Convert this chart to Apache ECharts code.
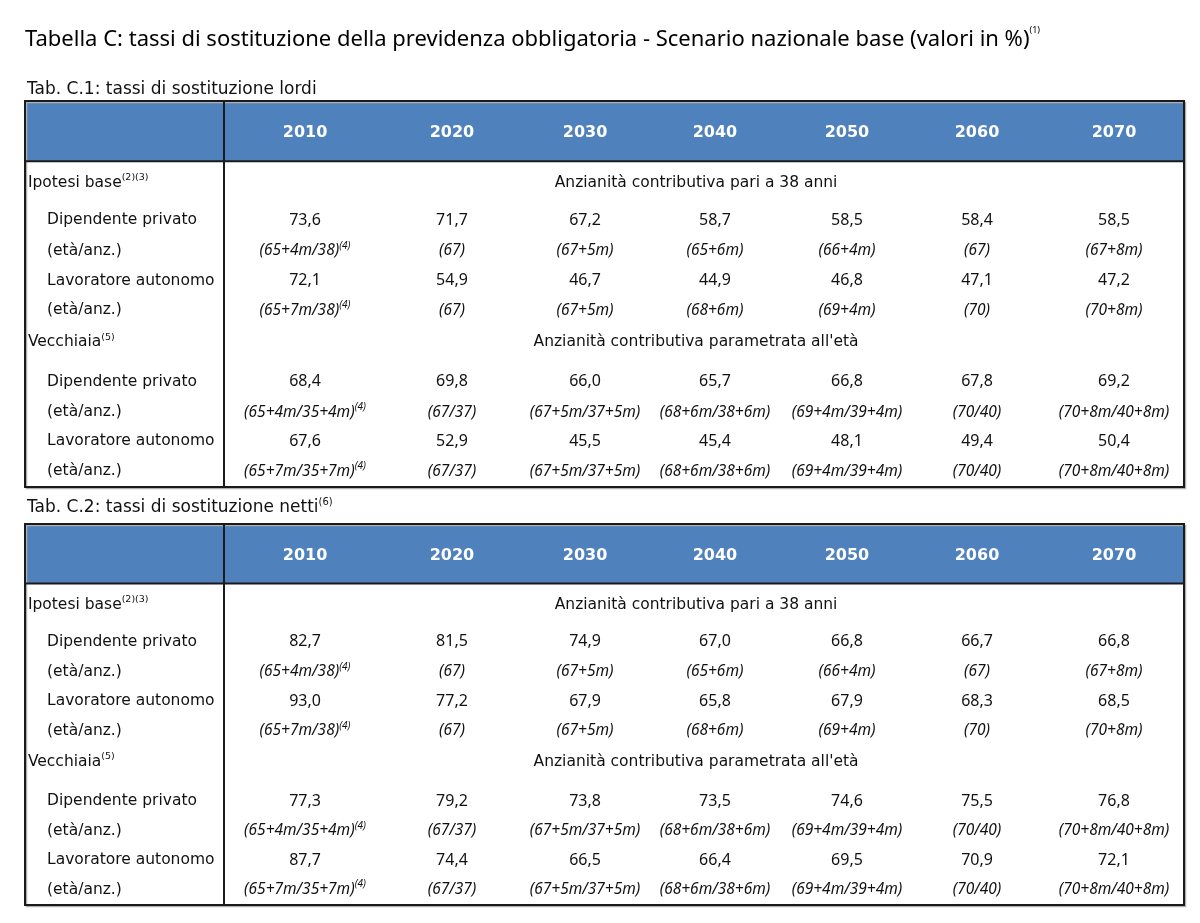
<!DOCTYPE html>
<html>
<head>
<meta charset="utf-8">
<script src="https://cdn.jsdelivr.net/npm/echarts@6/dist/echarts.min.js"></script>
<style>
  html, body { margin: 0; padding: 0; background: #fff; }
  #chart { width: 1200px; height: 923px; }
</style>
</head>
<body>
<div id="chart"></div>
<script>
// ---- data ----
var years = ["2010", "2020", "2030", "2040", "2050", "2060", "2070"];
var groupLabels = ["Ipotesi base", "Vecchiaia"];
var groupNotes = ["(2)(3)", "(5)"];
var groupSpans = ["Anzianità contributiva pari a 38 anni", "Anzianità contributiva parametrata all'età"];
var workerLabels = ["Dipendente privato", "Lavoratore autonomo"];
var ageLabel = "(età/anz.)";
var ageNote = "(4)";

// Tab. C.1 lordi
var grossDipBase = [73.6, 71.7, 67.2, 58.7, 58.5, 58.4, 58.5];
var grossAutBase = [72.1, 54.9, 46.7, 44.9, 46.8, 47.1, 47.2];
var grossDipOld = [68.4, 69.8, 66.0, 65.7, 66.8, 67.8, 69.2];
var grossAutOld = [67.6, 52.9, 45.5, 45.4, 48.1, 49.4, 50.4];
// Tab. C.2 netti
var netDipBase = [82.7, 81.5, 74.9, 67.0, 66.8, 66.7, 66.8];
var netAutBase = [93.0, 77.2, 67.9, 65.8, 67.9, 68.3, 68.5];
var netDipOld = [77.3, 79.2, 73.8, 73.5, 74.6, 75.5, 76.8];
var netAutOld = [87.7, 74.4, 66.5, 66.4, 69.5, 70.9, 72.1];
// età/anzianità
var ageDipBase = ["65+4m/38", "67", "67+5m", "65+6m", "66+4m", "67", "67+8m"];
var ageAutBase = ["65+7m/38", "67", "67+5m", "68+6m", "69+4m", "70", "70+8m"];
var ageDipOld = ["65+4m/35+4m", "67/37", "67+5m/37+5m", "68+6m/38+6m", "69+4m/39+4m", "70/40", "70+8m/40+8m"];
var ageAutOld = ["65+7m/35+7m", "67/37", "67+5m/37+5m", "68+6m/38+6m", "69+4m/39+4m", "70/40", "70+8m/40+8m"];

// ---- layout (axis units: x = % of table width, y = row units) ----
var COL_X = [24.16, 36.84, 48.32, 59.53, 70.92, 82.14, 93.96];
var ROW_Y = [0.66, 1.81, 2.75, 3.66, 4.58, 5.55, 6.77, 7.7, 8.6, 9.52];
var LABEL_X = 0.25, SUB_X = 1.9, SPAN_X = 57.9, DIV_X = 17.17, HEAD = 1.85, ROWS = 10;

var INK = "#111";
var RICH = {
  lab: { fontFamily: "DejaVu Sans", fontSize: 15.5, fill: INK, lineHeight: 20 },
  labSup: { fontFamily: "DejaVu Sans", fontSize: 9.5, fill: INK, lineHeight: 11, verticalAlign: "top" },
  span: { fontFamily: "DejaVu Sans", fontSize: 15.5, fill: INK, lineHeight: 20 },
  num: { fontFamily: "Noto Sans", fontSize: 16, fill: INK, lineHeight: 20 },
  it: { fontFamily: "Noto Sans", fontStyle: "italic", fontSize: 15.5, fill: INK, lineHeight: 20 },
  itSup: { fontFamily: "Noto Sans", fontStyle: "italic", fontSize: 10, fill: INK, lineHeight: 11, verticalAlign: "top" },
  year: { fontFamily: "DejaVu Sans", fontWeight: "bold", fontSize: 16, fill: "#fff", lineHeight: 20 }
};

function fmt(v) { return v.toFixed(1).replace(".", ","); }

function buildCells(vals) {
  var cells = [];
  var ages = [ageDipBase, ageAutBase, ageDipOld, ageAutOld];
  years.forEach(function (y, i) {
    cells.push({ x: COL_X[i], y: -HEAD / 2 + 0.05, align: "center", text: "{year|" + y + "}" });
  });
  for (var g = 0; g < 2; g++) {
    var r0 = g * 5;
    cells.push({ x: LABEL_X, y: ROW_Y[r0], align: "left", text: "{lab|" + groupLabels[g] + "}{labSup|" + groupNotes[g] + "}" });
    cells.push({ x: SPAN_X, y: ROW_Y[r0], align: "center", text: "{span|" + groupSpans[g] + "}" });
    for (var w = 0; w < 2; w++) {
      var rv = r0 + 1 + w * 2, ra = rv + 1, k = g * 2 + w;
      cells.push({ x: SUB_X, y: ROW_Y[rv], align: "left", text: "{lab|" + workerLabels[w] + "}" });
      cells.push({ x: SUB_X, y: ROW_Y[ra], align: "left", text: "{lab|" + ageLabel + "}" });
      for (var i = 0; i < years.length; i++) {
        cells.push({ x: COL_X[i], y: ROW_Y[rv], align: "center", text: "{num|" + fmt(vals[k][i]) + "}" });
        cells.push({ x: COL_X[i], y: ROW_Y[ra], align: "center",
          text: "{it|(" + ages[k][i] + ")}" + (i === 0 ? "{itSup|" + ageNote + "}" : "") });
      }
    }
  }
  return cells;
}

var tables = [
  buildCells([grossDipBase, grossAutBase, grossDipOld, grossAutOld]),
  buildCells([netDipBase, netAutBase, netDipOld, netAutOld])
];

function frameItem(params, api) {
  var tl = api.coord([0, -HEAD]);
  var hb = api.coord([100, 0]);
  var br = api.coord([100, ROWS]);
  var dv = api.coord([DIV_X, 0]);
  var line = { stroke: "#1a1a1a", lineWidth: 2 };
  return {
    type: "group",
    children: [
      { type: "rect", shape: { x: tl[0], y: tl[1], width: br[0] - tl[0], height: hb[1] - tl[1] }, style: { fill: "#4F81BD" } },
      { type: "rect", shape: { x: tl[0] + 1.5, y: tl[1] + 1.5, width: br[0] - tl[0], height: br[1] - tl[1] }, style: { fill: null, stroke: "#b0b0b0", lineWidth: 1.5 } },
      { type: "rect", shape: { x: tl[0], y: tl[1], width: br[0] - tl[0], height: br[1] - tl[1] }, style: { fill: null, stroke: "#1a1a1a", lineWidth: 2 } },
      { type: "line", shape: { x1: tl[0], y1: hb[1], x2: br[0], y2: hb[1] }, style: line },
      { type: "line", shape: { x1: dv[0], y1: tl[1], x2: dv[0], y2: br[1] }, style: line }
    ]
  };
}

function cellRenderer(t) {
  return function (params, api) {
    var c = tables[t][params.dataIndex];
    var p = api.coord([c.x, c.y]);
    return {
      type: "text", x: p[0], y: p[1],
      style: { text: c.text, rich: RICH, align: c.align, verticalAlign: "middle", fill: INK }
    };
  };
}

var chart = echarts.init(document.getElementById("chart"), null, { renderer: "canvas" });

var series = [];
[0, 1].forEach(function (t) {
  series.push({
    type: "custom", xAxisIndex: t, yAxisIndex: t, silent: true, clip: false, z: 1,
    data: [[0, 0]], renderItem: frameItem
  });
  series.push({
    type: "custom", xAxisIndex: t, yAxisIndex: t, silent: true, clip: false, z: 2,
    data: tables[t].map(function (c) { return [c.x, c.y]; }),
    renderItem: cellRenderer(t)
  });
});

chart.setOption({
  backgroundColor: "#fff",
  animation: false,
  title: [
    {
      text: "{t|Tabella C: tassi di sostituzione della previdenza obbligatoria - Scenario nazionale base (valori in %)}{s|(1)}",
      left: 25, top: 26, padding: 0,
      textStyle: { fontWeight: "normal", rich: {
        t: { fontFamily: "Noto Sans", fontWeight: "normal", fontSize: 22, color: "#000", lineHeight: 27 },
        s: { fontFamily: "Noto Sans", fontWeight: "normal", fontSize: 9, color: "#000", lineHeight: 11, verticalAlign: "top" }
      } }
    },
    {
      text: "{t|Tab. C.1: tassi di sostituzione lordi}",
      left: 27, top: 79, padding: 0,
      textStyle: { fontWeight: "normal", rich: { t: { fontFamily: "DejaVu Sans", fontWeight: "normal", fontSize: 17, color: "#111", lineHeight: 21 } } }
    },
    {
      text: "{t|Tab. C.2: tassi di sostituzione netti}{s|(6)}",
      left: 27, top: 497, padding: 0,
      textStyle: { fontWeight: "normal", rich: {
        t: { fontFamily: "DejaVu Sans", fontWeight: "normal", fontSize: 17, color: "#111", lineHeight: 21 },
        s: { fontFamily: "DejaVu Sans", fontWeight: "normal", fontSize: 10, color: "#111", lineHeight: 11, verticalAlign: "top" }
      } }
    }
  ],
  grid: [
    { left: 25, top: 101, width: 1159, height: 386 },
    { left: 25, top: 524, width: 1159, height: 381 }
  ],
  xAxis: [
    { gridIndex: 0, type: "value", min: 0, max: 100, show: false },
    { gridIndex: 1, type: "value", min: 0, max: 100, show: false }
  ],
  yAxis: [
    { gridIndex: 0, type: "value", min: -HEAD, max: ROWS, inverse: true, show: false },
    { gridIndex: 1, type: "value", min: -HEAD, max: ROWS, inverse: true, show: false }
  ],
  series: series
});
</script>
</body>
</html>
